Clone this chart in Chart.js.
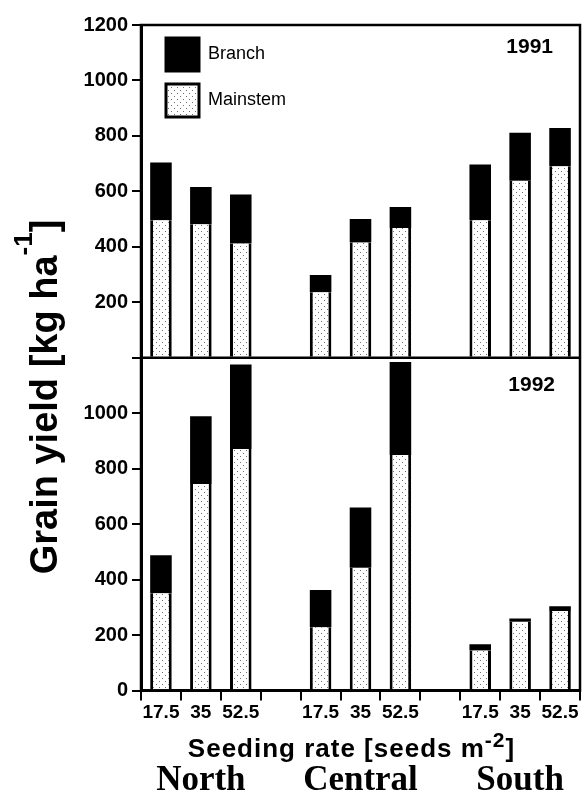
<!DOCTYPE html>
<html>
<head>
<meta charset="utf-8">
<title>Grain yield by seeding rate</title>
<script src="https://cdn.jsdelivr.net/npm/chart.js@4.4.1/dist/chart.umd.min.js"></script>
<style>
  html, body { margin: 0; padding: 0; background: #fff; }
  #yieldChart { display: block; }
</style>
</head>
<body>
<canvas id="yieldChart" width="583" height="797"></canvas>
<script>
// Regions and seeding rates (seeds m-2)
const regions = ['North', 'Central', 'South'];
const seedingRates = ['17.5', '35', '52.5'];
const years = ['1991', '1992'];

// Grain yield (kg/ha), one value per region x seeding rate
const mainstem1991 = [496, 481, 412, 236, 416, 468, 496, 638, 691];
const branch1991   = [208, 135, 177,  62,  84,  76, 201, 173, 138];
const mainstem1992 = [351, 745, 871, 228, 443, 849, 144, 248, 287];
const branch1992   = [137, 244, 305, 134, 217, 336,  23,  12,  17];

// y tick labels shown in each panel
const yTicksTop = [200, 400, 600, 800, 1000, 1200];
const yTicksBottom = [0, 200, 400, 600, 800, 1000];

const SANS = "'Liberation Sans', Arial, Helvetica, sans-serif";
const SERIF = "'Liberation Serif', 'Times New Roman', serif";

// one empty slot between regions on the x axis
function withGaps(values) {
    const out = [];
    regions.forEach((r, g) => {
        if (g > 0) out.push(null);
        seedingRates.forEach((s, i) => out.push(values[g * seedingRates.length + i]));
    });
    return out;
}

const slotLabels = withGaps(regions.flatMap(() => seedingRates)).map(l => l === null ? '' : l);
const groupCenters = regions.map((r, g) => g * (seedingRates.length + 1) + 1);

const canvas = document.getElementById('yieldChart');
const ctx = canvas.getContext('2d');

// light dotted diagonal fill for the mainstem part
function makeHatch() {
    const c = document.createElement('canvas');
    c.width = 6; c.height = 6;
    const g = c.getContext('2d');
    g.fillStyle = '#fff';
    g.fillRect(0, 0, 6, 6);
    g.fillStyle = '#707070';
    g.fillRect(0, 0, 1, 1);
    g.fillRect(3, 3, 1, 1);
    return ctx.createPattern(c, 'repeat');
}
const hatch = makeHatch();

// draws a label with a raised exponent, centred on (x, y)
function drawSupText(c, parts, x, y) {
    let total = 0;
    parts.forEach(p => { c.font = p.font; p.w = c.measureText(p.text).width; total += p.w; });
    let cx = x - total / 2;
    c.textAlign = 'left';
    c.textBaseline = 'alphabetic';
    parts.forEach(p => {
        c.font = p.font;
        c.fillText(p.text, cx, y - (p.raise || 0));
        cx += p.w;
    });
}

const figureText = {
    id: 'figureText',
    afterLayout(chart) {
        // legend lives inside the upper panel
        const a = chart.chartArea;
        if (chart.legend) {
            chart.legend.left = a.left + 12;
            chart.legend.top = a.top;
        }
    },
    afterDraw(chart) {
        const c = chart.ctx;
        const a = chart.chartArea;
        const top = chart.scales.yTop;
        c.save();
        c.strokeStyle = '#000';
        c.lineWidth = 2.5;
        c.strokeRect(a.left, a.top, a.right - a.left, a.bottom - a.top);
        c.beginPath();
        c.moveTo(a.left, top.bottom);
        c.lineTo(a.right, top.bottom);
        c.stroke();

        c.fillStyle = '#000';
        c.font = 'bold 21px ' + SANS;
        c.textAlign = 'right';
        c.textBaseline = 'alphabetic';
        c.fillText(years[0], a.right - 27, a.top + 28);
        c.fillText(years[1], a.right - 25, top.bottom + 33);

        // y title, rotated
        c.save();
        c.translate(a.left - 84, a.top + 372);
        c.rotate(-Math.PI / 2);
        drawSupText(c, [
            { text: 'Grain yield [kg ha', font: 'bold 38px ' + SANS },
            { text: '-1', font: 'bold 26px ' + SANS, raise: 25 },
            { text: ']', font: 'bold 38px ' + SANS }
        ], 0, 0);
        c.restore();

        // x title
        c.letterSpacing = '1px';
        drawSupText(c, [
            { text: 'Seeding rate [seeds m', font: 'bold 26px ' + SANS },
            { text: '-2', font: 'bold 21px ' + SANS, raise: 10 },
            { text: ']', font: 'bold 26px ' + SANS }
        ], (a.left + a.right) / 2 - 9, chart.scales.x.bottom - 8);
        c.restore();
    }
};

const axisBlack = '#000';

new Chart(ctx, {
    type: 'bar',
    data: {
        labels: slotLabels,
        datasets: [
            { label: 'Mainstem', data: withGaps(mainstem1991), yAxisID: 'yTop', stack: 'yield',
              backgroundColor: hatch, borderColor: '#000', borderWidth: { left: 3, right: 3, top: 0, bottom: 0 } },
            { label: 'Branch', data: withGaps(branch1991), yAxisID: 'yTop', stack: 'yield',
              backgroundColor: '#000', borderWidth: 0 },
            { label: 'Mainstem', data: withGaps(mainstem1992), yAxisID: 'yBot', stack: 'yield',
              backgroundColor: hatch, borderColor: '#000', borderWidth: { left: 3, right: 3, top: 0, bottom: 0 } },
            { label: 'Branch', data: withGaps(branch1992), yAxisID: 'yBot', stack: 'yield',
              backgroundColor: '#000', borderWidth: 0 }
        ]
    },
    options: {
        responsive: false,
        animation: false,
        events: [],
        devicePixelRatio: 1,
        layout: { padding: { top: 25, right: 3, bottom: 0, left: 0 } },
        datasets: { bar: { barPercentage: 0.54, categoryPercentage: 1 } },
        plugins: {
            tooltip: { enabled: false },
            legend: {
                position: 'chartArea',
                align: 'start',
                labels: {
                    boxWidth: 33,
                    boxHeight: 33,
                    padding: 13,
                    color: '#000',
                    font: { family: SANS, size: 18, weight: 'normal' },
                    generateLabels: chart => Chart.defaults.plugins.legend.labels.generateLabels(chart)
                        .filter(item => item.datasetIndex < 2)
                        .reverse()
                        .map(item => Object.assign(item, { lineWidth: 3, strokeStyle: '#000' }))
                }
            }
        },
        scales: {
            x: {
                stacked: true,
                grid: { display: true, offset: true, drawOnChartArea: false, drawTicks: true, tickLength: 10, lineWidth: 2, color: axisBlack },
                border: { display: true, width: 3, color: axisBlack },
                ticks: { autoSkip: false, maxRotation: 0, padding: 1, color: '#000',
                         font: { family: SANS, size: 19, weight: 'bold', lineHeight: 1.2 } },
                // room for the seeding-rate title drawn by figureText
                title: { display: true, text: ' ', font: { family: SANS, size: 25, lineHeight: 1.2 }, padding: { top: 5, bottom: 4.7 } }
            },
            xGroup: {
                type: 'linear',
                position: 'bottom',
                weight: 1,
                offset: false,
                min: -0.5,
                max: slotLabels.length - 0.5,
                grid: { display: false, drawTicks: false },
                border: { display: false },
                afterBuildTicks: s => { s.ticks = groupCenters.map(v => ({ value: v })); },
                ticks: { autoSkip: false, maxRotation: 0, padding: 2, color: '#000',
                         font: { family: SERIF, size: 35, weight: 'bold', lineHeight: 0.8 },
                         callback: v => regions[groupCenters.indexOf(v)] }
            },
            // left boxes are placed in reverse order, so the lower panel comes first
            yBot: {
                type: 'linear', position: 'left', stack: 'panels', stackWeight: 1, stacked: true,
                min: 0, max: 1200,
                grid: { drawOnChartArea: false, tickLength: 9, lineWidth: 2, color: axisBlack },
                border: { width: 3, color: axisBlack },
                ticks: { stepSize: 200, padding: 4, color: '#000', font: { family: SANS, size: 20, weight: 'bold' },
                         callback: v => yTicksBottom.includes(v) ? String(v) : '' },
                afterFit: s => { s.width = 141; }
            },
            yTop: {
                type: 'linear', position: 'left', stack: 'panels', stackWeight: 1, stacked: true,
                min: 0, max: 1200,
                grid: { drawOnChartArea: false, tickLength: 9, lineWidth: 2, color: axisBlack },
                border: { width: 3, color: axisBlack },
                ticks: { stepSize: 200, padding: 4, color: '#000', font: { family: SANS, size: 20, weight: 'bold' },
                         callback: v => yTicksTop.includes(v) ? String(v) : '' },
                afterFit: s => { s.width = 141; }
            }
        }
    },
    plugins: [figureText]
});
</script>
</body>
</html>
